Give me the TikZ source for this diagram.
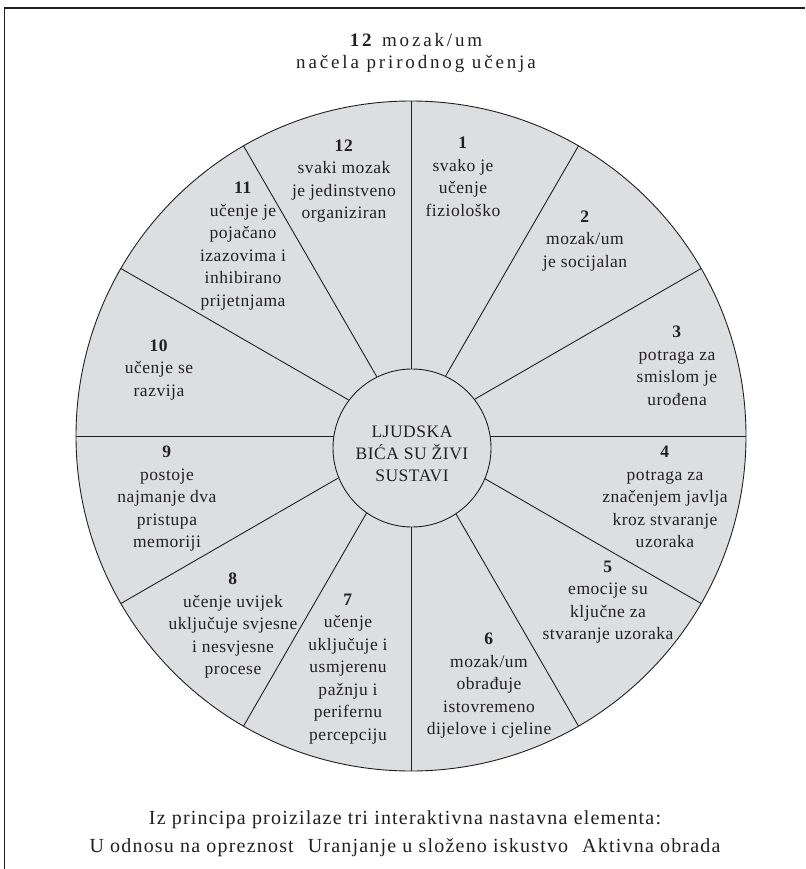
\documentclass[tikz,border=0pt]{standalone}
\usepackage{fontspec}
\setmainfont{Liberation Serif}
\newfontfamily\wedgefont[LetterSpace=3]{Liberation Serif}
\newfontfamily\titlefont[LetterSpace=15]{Liberation Serif}
\newfontfamily\bottomfont[LetterSpace=6]{Liberation Serif}
\definecolor{wedgegray}{RGB}{221,222,224}
\definecolor{ink}{RGB}{35,31,32}
\begin{document}
\begin{tikzpicture}[x=1pt,y=-1pt,
  wtext/.style={align=center, text=ink, inner sep=0pt, font=\wedgefont\fontsize{17.5}{22.5}\selectfont},
  spoke/.style={draw=ink, line width=0.9pt},
  frameline/.style={draw=ink},
  ttext/.style={align=center, text=ink, inner sep=0pt, font=\titlefont\fontsize{19}{22}\selectfont},
  btext/.style={align=center, text=ink, inner sep=0pt, font=\bottomfont\fontsize{20}{28}\selectfont}]
\useasboundingbox (0,0) rectangle (805,869);
% frame
\coordinate (fl) at (4,869);
\coordinate (ftl) at (4,8);
\coordinate (ftr) at (805,8);
\draw[frameline, line width=1pt] (fl) -- (ftl);
\draw[frameline, line width=1.8pt] (ftl) -- (ftr);
% wheel
\coordinate (c) at (411,436);
\node[circle, draw=ink, line width=0.9pt, fill=wedgegray, minimum size=670pt, inner sep=0pt, outer sep=0pt] (disc) at (c) {};
\foreach \a in {0,30,...,330} \draw[spoke] (disc.center) -- (disc.\a);
\node[circle, draw=ink, line width=0.9pt, fill=wedgegray, minimum size=158pt, inner sep=0pt, outer sep=0pt] (hub) at (412,448) {};
\node[align=center, text=ink, inner sep=0pt, font=\wedgefont\fontsize{17.5}{22}\selectfont] (hubtext) at (412,454) {LJUDSKA\\BIĆA SU ŽIVI\\SUSTAVI};
% title
\node[ttext] (title) at (416,53) {\textbf{12} mozak/um\\načela prirodnog učenja};
% wedge texts
\node[wtext] (w1) at (463,177) {\textbf{1}\\svako je\\učenje\\fiziološko};
\node[wtext] (w2) at (585,241) {\textbf{2}\\mozak/um\\je socijalan};
\node[wtext] (w3) at (677,366) {\textbf{3}\\potraga za\\smislom je\\urođena};
\node[wtext] (w4) at (665,497) {\textbf{4}\\potraga za\\značenjem javlja\\kroz stvaranje\\uzoraka};
\node[wtext] (w5) at (608,602) {\textbf{5}\\emocije su\\ključne za\\stvaranje uzoraka};
\node[wtext] (w6) at (489,686) {\textbf{6}\\mozak/um\\obrađuje\\istovremeno\\dijelove i cjeline};
\node[wtext] (w7) at (348,669) {\textbf{7}\\učenje\\uključuje i\\usmjerenu\\pažnju i\\perifernu\\percepciju};
\node[wtext] (w8) at (233,626) {\textbf{8}\\učenje uvijek\\uključuje svjesne\\i nesvjesne\\procese};
\node[wtext] (w9) at (167,499) {\textbf{9}\\postoje\\najmanje dva\\pristupa\\memoriji};
\node[wtext] (w10) at (159,370) {\textbf{10}\\učenje se\\razvija};
\node[wtext] (w11) at (243,246) {\textbf{11}\\učenje je\\pojačano\\izazovima i\\inhibirano\\prijetnjama};
\node[wtext] (w12) at (344,181) {\textbf{12}\\svaki mozak\\je jedinstveno\\organiziran};
% bottom
\node[btext] (bottom) at (405,834) {Iz principa proizilaze tri interaktivna nastavna elementa:\\U odnosu na opreznost\hspace{14pt}Uranjanje u složeno iskustvo\hspace{14pt}Aktivna obrada};
\end{tikzpicture}
\end{document}
